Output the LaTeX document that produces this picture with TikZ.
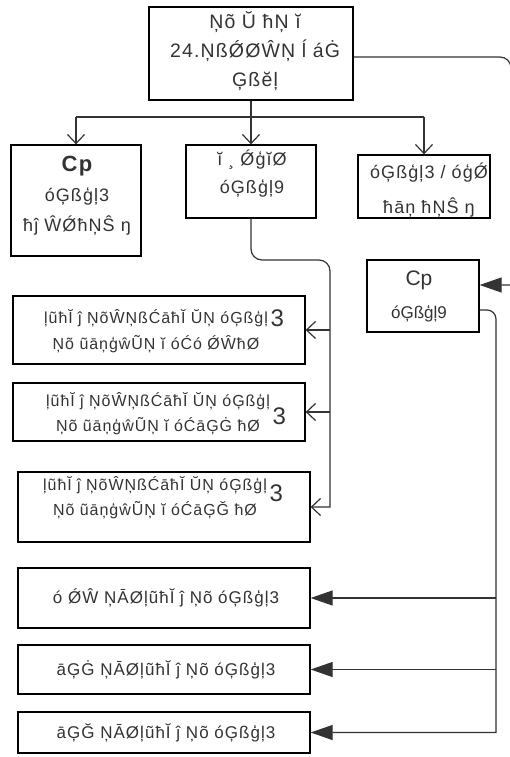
\documentclass[tikz,border=0pt]{standalone}
\usepackage{fontspec}
\setmainfont{Liberation Sans}
\newfontfamily\wide[LetterSpace=6]{Liberation Sans}
\usetikzlibrary{arrows.meta}
\begin{document}
\begin{tikzpicture}[x=1pt,y=-1pt,
  box/.style={draw=black, line width=1.3pt, rectangle, inner sep=0pt},
  txt/.style={inner sep=0pt, align=center, text=black!80},
  conn/.style={draw=black!80, line width=1.2pt},
  opentip/.style={-{Straight Barb[length=9pt,width=17pt,line width=1.2pt]}},
  filledtip/.style={-{Triangle[length=22pt,width=15pt]}}
]
\useasboundingbox (0,0) rectangle (509,757);
% boxes
\node[box, minimum width=204pt, minimum height=93pt] (top) at (251,53.5) {};
\node[box, minimum width=130pt, minimum height=111pt] (left) at (76,200.5) {};
\node[box, minimum width=130pt, minimum height=73pt] (mid) at (251,181.5) {};
\node[box, minimum width=132pt, minimum height=63pt] (right) at (424,186.5) {};
\node[box, minimum width=112pt, minimum height=72pt] (cpn) at (423,296) {};
\node[box, minimum width=292pt, minimum height=68pt] (b1) at (159,330) {};
\node[box, minimum width=292pt, minimum height=58pt] (b2) at (159,412) {};
\node[box, minimum width=292pt, minimum height=70pt] (b3) at (164,507) {};
\node[box, minimum width=292pt, minimum height=60pt] (ba) at (164,598) {};
\node[box, minimum width=292pt, minimum height=49pt] (bb) at (164,669.5) {};
\node[box, minimum width=292pt, minimum height=41pt] (bc) at (164,732.5) {};
% texts
\node[txt, font=\wide\fontsize{19.5}{29}\selectfont] (ttop) at (255,51) {Ņõ Ŭ ħŅ ĭ\\24.ŅßǾØŴŅ ĺ áĠ\\Ģßĕļ};
\node[txt, font=\wide\fontsize{18}{30}\selectfont] (tleft) at (77,196) {{\bfseries\fontsize{22}{22}\selectfont Cp}\\óĢßģļ3\\ħĵ ŴǾħŅŜ ŋ};
\node[txt, font=\wide\fontsize{18}{28}\selectfont] (tmid) at (252,174) {ĭ ¸ ǾģĭØ\\óĢßģļ9};
\node[txt, font=\wide\fontsize{18}{35}\selectfont] (tright) at (429,190) {óĢßģļ3 / óģǾ\\ħāņ ħŅŜ ŋ};
\node[txt, font=\fontsize{17}{33}\selectfont] (tcp) at (419,296) {{\fontsize{21}{21}\selectfont Cp}\\óĢßģļ9};
\node[txt, font=\wide\fontsize{16}{26}\selectfont] (t1) at (164,331) {\begin{tabular}{@{}c@{}}ļũħĬ ĵ ŅõŴŅßĆāħĬ ŬŅ óĢßģļ\\Ņõ ũāņģŵŨŅ ĭ óĆó ǾŴħØ\end{tabular}\,\raisebox{9pt}{\fontsize{24}{24}\selectfont 3}};
\node[txt, font=\wide\fontsize{16}{25}\selectfont] (t2) at (166,414) {\begin{tabular}{@{}c@{}}ļũħĬ ĵ ŅõŴŅßĆāħĬ ŬŅ óĢßģļ\\Ņõ ũāņģŵŨŅ ĭ óĆāĢĠ ħØ\end{tabular}\,\raisebox{-6pt}{\fontsize{24}{24}\selectfont 3}};
\node[txt, font=\wide\fontsize{16}{25}\selectfont] (t3) at (163,498) {\begin{tabular}{@{}c@{}}ļũħĬ ĵ ŅõŴŅßĆāħĬ ŬŅ óĢßģļ\\Ņõ ũāņģŵŨŅ ĭ óĆāĢĞ ħØ\end{tabular}\,\raisebox{1pt}{\fontsize{24}{24}\selectfont 3}};
\node[txt, font=\wide\fontsize{17}{18}\selectfont] (ta) at (166,598) {ó ǾŴ ŅĀØļũħĬ ĵ Ņõ óĢßģļ3};
\node[txt, font=\wide\fontsize{17}{18}\selectfont] (tb) at (166,669.5) {āĢĠ ŅĀØļũħĬ ĵ Ņõ óĢßģļ3};
\node[txt, font=\wide\fontsize{17}{18}\selectfont] (tc) at (166,732.5) {āĢĞ ŅĀØļũħĬ ĵ Ņõ óĢßģļ3};
% tree from top box
\coordinate (tj) at (251,117);
\draw[conn] (top.south) -- (tj);
\draw[conn] (left.north |- tj) -- (right.north |- tj);
\draw[conn, opentip] (left.north |- tj) -- (left.north);
\draw[conn, opentip] (tj) -- (mid.north);
\draw[conn, opentip] (right.north |- tj) -- (right.north);
% middle trunk
\coordinate (vm) at (330,260);
\draw[conn, opentip, rounded corners=11pt] (mid.south) |- (vm) [sharp corners] -- (vm |- b3.east) -- (b3.east);
\draw[conn, opentip] (vm |- b1.east) -- (b1.east);
\draw[conn, opentip] (vm |- b2.east) -- (b2.east);
% right feedback from top box
\coordinate (ra) at (511,57);
\coordinate (rb) at (511,285);
\draw[conn, filledtip, rounded corners=11pt] ([yshift=-3.5pt]top.east) -- (ra) [sharp corners] -- (rb) -- (cpn.east |- rb);
% right trunk from Cp9
\coordinate (rc) at (496,310);
\draw[conn, filledtip, rounded corners=9pt] (cpn.east |- rc) -- (rc) [sharp corners] -- (rc |- bc.east) -- (bc.east);
\draw[conn, filledtip] (rc |- ba.east) -- (ba.east);
\draw[conn, filledtip] (rc |- bb.east) -- (bb.east);
\end{tikzpicture}
\end{document}
